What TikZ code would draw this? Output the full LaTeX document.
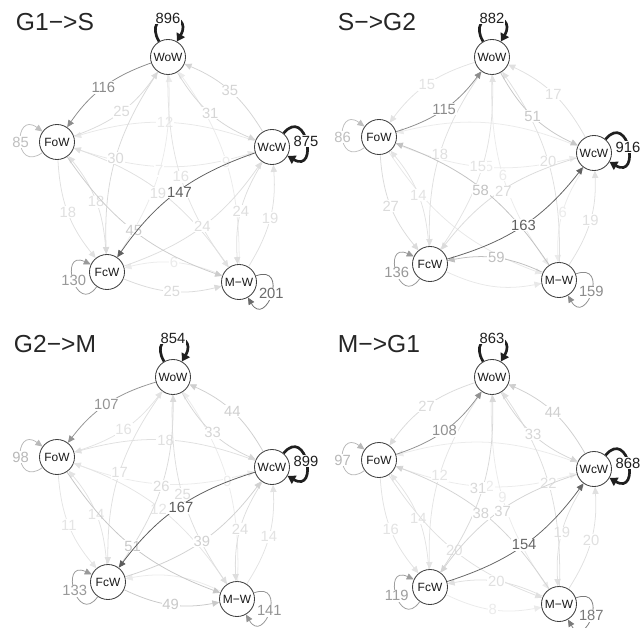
\documentclass[tikz,border=0pt]{standalone}
\usepackage{fontspec}
\setmainfont{Liberation Sans}
\usepackage{tikz}
\usetikzlibrary{arrows.meta}

\begin{document}
\begin{tikzpicture}[x=0.025cm,y=0.025cm,
		vert/.style={circle,draw=black!75,line width=0.6pt,fill=white,text=black!90,minimum size=0.875cm,inner sep=0pt,font=\fontsize{8.5}{10}\selectfont},
		ttl/.style={anchor=west,text=black!85,font=\fontsize{17.5}{20}\selectfont},
		ed/.style={color=black!#1,line width=0.55pt,bend right=18,-{Triangle[length=5pt,width=4.5pt]},nodes={fill=white,inner sep=0.6pt,font=\fontsize{10.5}{12}\selectfont}},
		lp/.style={color=black!#1,line width=0.55pt,distance=0.9cm,-{Triangle[length=5pt,width=4.5pt]},nodes={fill=white,inner sep=0.6pt,font=\fontsize{10.5}{12}\selectfont}},
		lpk/.style={lp=88,line width=1.9pt,-{Triangle[length=5.5pt,width=6.5pt]}}]
		\useasboundingbox (0,0) rectangle (644,627);

		\node[ttl] (g1s) at (11,605) {G1−>S};
		\node[vert] (wow1) at (168,570) {WoW};
		\node[vert] (fow1) at (57,485) {FoW};
		\node[vert] (wcw1) at (272,480) {WcW};
		\node[vert] (fcw1) at (107,355) {FcW};
		\node[vert] (mw1) at (239,345) {M−W};
		\draw[ed=9] (fow1) to (wcw1);
		\draw[ed=9] (wcw1) to node{12} (fow1);
		\draw[ed=8] (mw1) to node{6} (fcw1);
		\draw[ed=8] (fcw1) to node{7} (wow1);
		\draw[ed=8] (mw1) to node{9} (wow1);
		\draw[ed=11] (wow1) to node{16} (mw1);
		\draw[ed=12] (fow1) to node{18} (fcw1);
		\draw[ed=12] (fcw1) to node{18} (fow1);
		\draw[ed=12] (mw1) to node[xshift=-3pt]{19} (fow1);
		\draw[ed=12] (mw1) to node{19} (wcw1);
		\draw[ed=13] (wcw1) to node{24} (mw1);
		\draw[ed=13] (fcw1) to node{24} (wcw1);
		\draw[ed=14] (fow1) to node{25} (wow1);
		\draw[ed=14] (fcw1) to node{25} (mw1);
		\draw[ed=15] (wow1) to node{30} (fcw1);
		\draw[ed=16] (wow1) to node{31} (wcw1);
		\draw[ed=17] (wcw1) to node{35} (wow1);
		\draw[ed=20] (fow1) to node{45} (mw1);
		\draw[ed=45] (wow1) to node{116} (fow1);
		\draw[ed=62] (wcw1) to node[xshift=2pt]{147} (fcw1);
		\draw[lp=25] (fow1) to[out=216,in=144] node{85} (fow1);
		\draw[lp=40] (fcw1) to[out=235,in=155] node{130} (fcw1);
		\draw[lp=58] (mw1) to[out=20,in=-60] node{201} (mw1);
		\draw[lpk] (wow1) to[out=120,in=60] node{896} (wow1);
		\draw[lpk] (wcw1) to[out=50,in=-30] node{875} (wcw1);

		\node[ttl] (sg2) at (333,605) {S−>G2};
		\node[vert] (wow2) at (492,570) {WoW};
		\node[vert] (fow2) at (379,490) {FoW};
		\node[vert] (wcw2) at (594,474) {WcW};
		\node[vert] (fcw2) at (430,363) {FcW};
		\node[vert] (mw2) at (559,347) {M−W};
		\draw[ed=8] (wcw2) to (fow2);
		\draw[ed=8] (fow2) to node[xshift=3pt]{5} (wcw2);
		\draw[ed=8] (wow2) to node{6} (mw2);
		\draw[ed=8] (wcw2) to node{6} (mw2);
		\draw[ed=9] (fow2) to (mw2);
		\draw[ed=9] (fcw2) to (mw2);
		\draw[ed=11] (fcw2) to node{14} (fow2);
		\draw[ed=11] (wow2) to node{15} (fow2);
		\draw[ed=11] (fcw2) to node[xshift=-3pt]{15} (wow2);
		\draw[ed=12] (wcw2) to node{17} (wow2);
		\draw[ed=12] (wow2) to node{18} (fcw2);
		\draw[ed=12] (mw2) to node{19} (wcw2);
		\draw[ed=12] (mw2) to node{20} (wow2);
		\draw[ed=14] (fow2) to node{27} (fcw2);
		\draw[ed=14] (wcw2) to node[xshift=2pt]{27} (fcw2);
		\draw[ed=22] (wow2) to node{51} (wcw2);
		\draw[ed=24] (mw2) to node[xshift=-2pt]{58} (fow2);
		\draw[ed=25] (mw2) to node{59} (fcw2);
		\draw[ed=45] (fow2) to node{115} (wow2);
		\draw[ed=62] (fcw2) to node{163} (wcw2);
		\draw[lp=25] (fow2) to[out=216,in=144] node{86} (fow2);
		\draw[lp=40] (fcw2) to[out=235,in=155] node{136} (fcw2);
		\draw[lp=45] (mw2) to[out=20,in=-60] node{159} (mw2);
		\draw[lpk] (wow2) to[out=120,in=60] node{882} (wow2);
		\draw[lpk] (wcw2) to[out=50,in=-30] node{916} (wcw2);

		\node[ttl] (g2m) at (9,283) {G2−>M};
		\node[vert] (wow3) at (173,250) {WoW};
		\node[vert] (fow3) at (57,170) {FoW};
		\node[vert] (wcw3) at (272,160) {WcW};
		\node[vert] (fcw3) at (108,45) {FcW};
		\node[vert] (mw3) at (237,28) {M−W};
		\draw[ed=8] (fow3) to (wcw3);
		\draw[ed=8] (mw3) to node{9} (wow3);
		\draw[ed=8] (mw3) to (fcw3);
		\draw[ed=10] (fow3) to node{11} (fcw3);
		\draw[ed=10] (mw3) to node[xshift=-2pt]{12} (fow3);
		\draw[ed=11] (fcw3) to node{14} (fow3);
		\draw[ed=11] (mw3) to node{14} (wcw3);
		\draw[ed=11] (fow3) to node{16} (wow3);
		\draw[ed=12] (wow3) to node{17} (fcw3);
		\draw[ed=12] (wcw3) to node{18} (fow3);
		\draw[ed=13] (wcw3) to node{24} (mw3);
		\draw[ed=13] (wow3) to node{25} (mw3);
		\draw[ed=14] (fcw3) to node{26} (wow3);
		\draw[ed=16] (wow3) to node{33} (wcw3);
		\draw[ed=18] (fcw3) to node{39} (wcw3);
		\draw[ed=19] (wcw3) to node{44} (wow3);
		\draw[ed=21] (fcw3) to node{49} (mw3);
		\draw[ed=22] (fow3) to node{51} (mw3);
		\draw[ed=42] (wow3) to node{107} (fow3);
		\draw[ed=64] (wcw3) to node[xshift=2pt]{167} (fcw3);
		\draw[lp=28] (fow3) to[out=216,in=144] node{98} (fow3);
		\draw[lp=40] (fcw3) to[out=235,in=155] node{133} (fcw3);
		\draw[lp=42] (mw3) to[out=20,in=-60] node{141} (mw3);
		\draw[lpk] (wow3) to[out=120,in=60] node{854} (wow3);
		\draw[lpk] (wcw3) to[out=50,in=-30] node{899} (wcw3);

		\node[ttl] (mg1) at (333,283) {M−>G1};
		\node[vert] (wow4) at (492,250) {WoW};
		\node[vert] (fow4) at (379,167) {FoW};
		\node[vert] (wcw4) at (594,158) {WcW};
		\node[vert] (fcw4) at (430,40) {FcW};
		\node[vert] (mw4) at (559,23) {M−W};
		\draw[ed=8] (wcw4) to (fow4);
		\draw[ed=8] (fow4) to node[xshift=3pt]{2} (wcw4);
		\draw[ed=8] (fcw4) to node{8} (mw4);
		\draw[ed=8] (wow4) to node{9} (mw4);
		\draw[ed=10] (wow4) to node{12} (fcw4);
		\draw[ed=11] (fcw4) to node{14} (fow4);
		\draw[ed=11] (fow4) to node{16} (fcw4);
		\draw[ed=12] (wcw4) to node{19} (mw4);
		\draw[ed=12] (fow4) to node{20} (mw4);
		\draw[ed=12] (mw4) to node{20} (wcw4);
		\draw[ed=12] (mw4) to node{20} (fcw4);
		\draw[ed=13] (mw4) to node{22} (wow4);
		\draw[ed=14] (wow4) to node{27} (fow4);
		\draw[ed=15] (fcw4) to node[xshift=-3pt]{31} (wow4);
		\draw[ed=16] (wow4) to node{33} (wcw4);
		\draw[ed=17] (wcw4) to node[xshift=2pt]{37} (fcw4);
		\draw[ed=17] (mw4) to node[xshift=-2pt]{38} (fow4);
		\draw[ed=19] (wcw4) to node{44} (wow4);
		\draw[ed=43] (fow4) to node{108} (wow4);
		\draw[ed=60] (fcw4) to node{154} (wcw4);
		\draw[lp=28] (fow4) to[out=216,in=144] node{97} (fow4);
		\draw[lp=38] (fcw4) to[out=235,in=155] node{119} (fcw4);
		\draw[lp=52] (mw4) to[out=20,in=-60] node{187} (mw4);
		\draw[lpk] (wow4) to[out=120,in=60] node{863} (wow4);
		\draw[lpk] (wcw4) to[out=50,in=-30] node{868} (wcw4);
	\end{tikzpicture}
\end{document}
